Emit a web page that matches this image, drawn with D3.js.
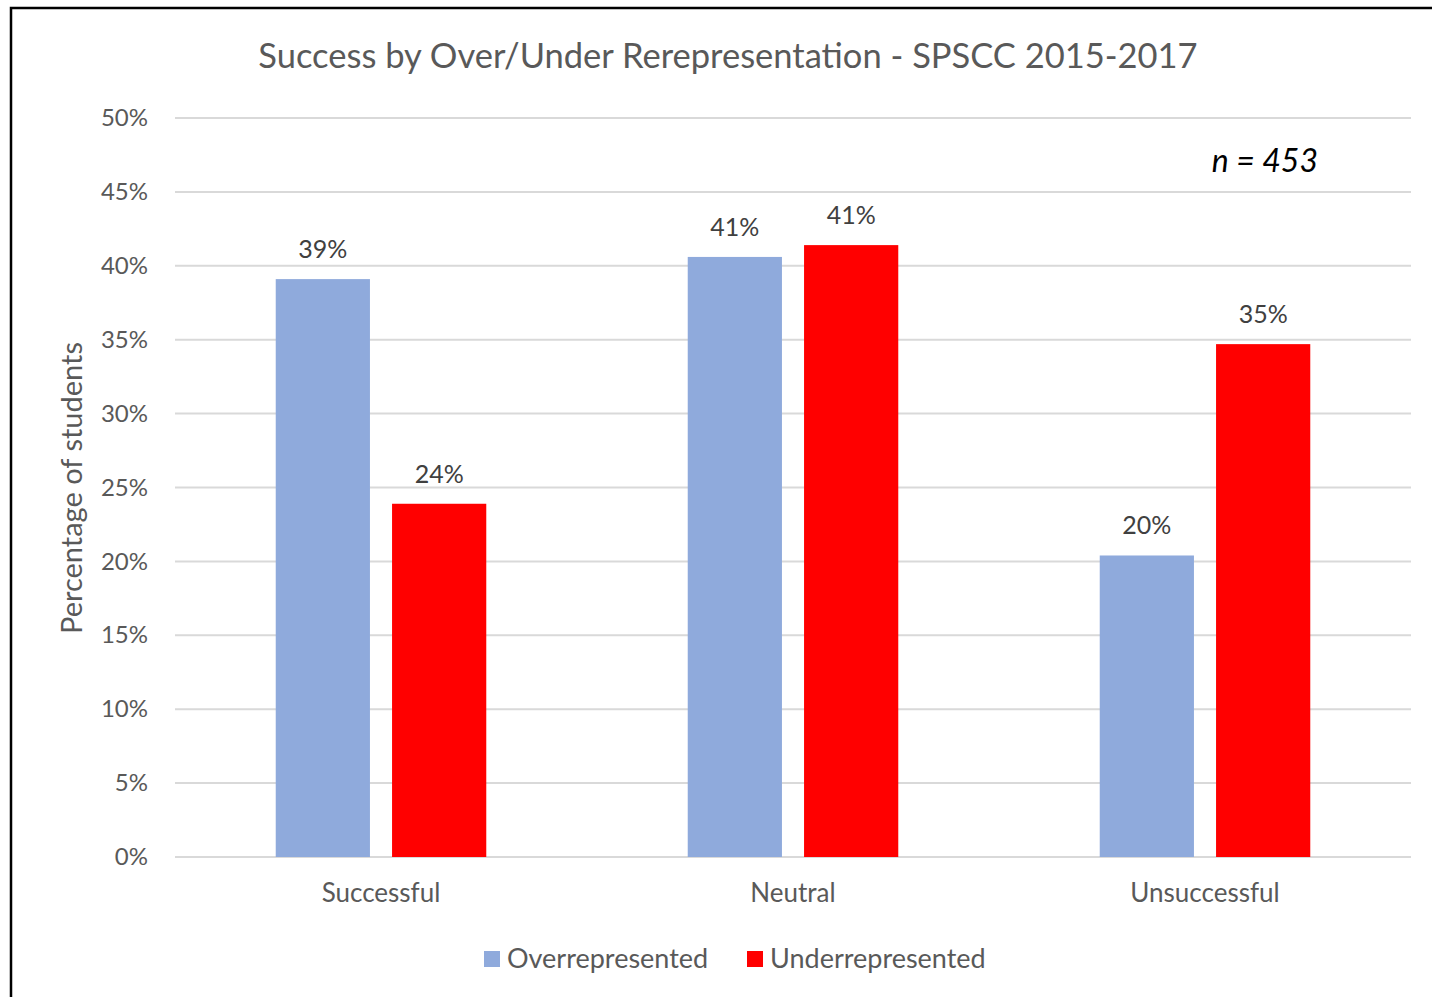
<!DOCTYPE html>
<html>
<head>
<meta charset="utf-8">
<script src="https://cdn.jsdelivr.net/npm/d3@7"></script>
<style>
  html, body { margin: 0; padding: 0; background: #fff; }
  svg { display: block; font-family: Lato, "Open Sans", sans-serif; }
</style>
</head>
<body>
<svg id="chart" width="1432" height="997"></svg>
<script>
const categories = ["Successful", "Neutral", "Unsuccessful"];
const seriesNames = ["Overrepresented", "Underrepresented"];
const overrepresented = [0.391, 0.406, 0.204];
const underrepresented = [0.239, 0.414, 0.347];
const yTicks = [0, 0.05, 0.10, 0.15, 0.20, 0.25, 0.30, 0.35, 0.40, 0.45, 0.50];
const colors = ["#8faadc", "#ff0000"];

const svg = d3.select("#chart");
const W = 1432, H = 997;
const margin = { left: 175, right: 21, top: 118, bottom: 140 };
const plotW = W - margin.left - margin.right;
const plotH = H - margin.top - margin.bottom;
const textColor = "#595959";

// chart frame
svg.append("rect")
  .attr("x", 11).attr("y", 8)
  .attr("width", 1440).attr("height", 1010)
  .attr("fill", "#fff").attr("stroke", "#000").attr("stroke-width", 2.5);

const g = svg.append("g").attr("transform", `translate(${margin.left},${margin.top})`);

const y = d3.scaleLinear().domain([0, 0.5]).range([plotH, 0]);
const x0 = d3.scaleBand().domain(categories).range([0, plotW]).paddingInner(0).paddingOuter(0);
const x1 = d3.scaleBand().domain(seriesNames).range([0, x0.bandwidth()]).paddingInner(0.19).paddingOuter(0.866);

// gridlines
g.append("g")
  .selectAll("line")
  .data(yTicks)
  .join("line")
  .attr("x1", 0).attr("x2", plotW)
  .attr("y1", d => y(d)).attr("y2", d => y(d))
  .attr("stroke", "#d9d9d9").attr("stroke-width", 2);

// y axis labels
const yAxis = d3.axisLeft(y).tickValues(yTicks).tickFormat(d3.format(".0%")).tickSize(0).tickPadding(27);
g.append("g").call(yAxis)
  .call(s => s.select(".domain").remove())
  .call(s => s.selectAll("text").attr("fill", textColor).style("font-size", "24px").style("font-family", "Lato, sans-serif"));

// x axis labels
const xAxis = d3.axisBottom(x0).tickSize(0).tickPadding(27);
g.append("g").attr("transform", `translate(0,${plotH})`).call(xAxis)
  .call(s => s.select(".domain").remove())
  .call(s => s.selectAll("text").attr("fill", textColor).style("font-size", "26px").style("font-family", "Lato, sans-serif"));

const rows = categories.map((c, i) => ({ cat: c, vals: [overrepresented[i], underrepresented[i]] }));

const groups = g.selectAll(".grp").data(rows).join("g")
  .attr("class", "grp")
  .attr("transform", d => `translate(${x0(d.cat)},0)`);

groups.selectAll("rect")
  .data(d => d.vals.map((v, j) => ({ s: seriesNames[j], v, j })))
  .join("rect")
  .attr("x", d => x1(d.s))
  .attr("width", x1.bandwidth())
  .attr("y", d => y(d.v))
  .attr("height", d => plotH - y(d.v))
  .attr("fill", d => colors[d.j]);

groups.selectAll(".lbl")
  .data(d => d.vals.map((v, j) => ({ s: seriesNames[j], v, j })))
  .join("text")
  .attr("class", "lbl")
  .attr("x", d => x1(d.s) + x1.bandwidth() / 2)
  .attr("y", d => y(d.v) - 21)
  .attr("text-anchor", "middle")
  .attr("fill", "#404040")
  .style("font-size", "25px")
  .text(d => d3.format(".0%")(d.v));

// title
svg.append("text")
  .attr("x", 728).attr("y", 68)
  .attr("text-anchor", "middle")
  .attr("fill", textColor)
  .style("font-size", "34.5px")
  .text("Success by Over/Under Rerepresentation - SPSCC 2015-2017");

// y axis title
svg.append("text")
  .attr("transform", "translate(82,488) rotate(-90)")
  .attr("text-anchor", "middle")
  .attr("fill", textColor)
  .style("font-size", "29px")
  .text("Percentage of students");

// sample size note
svg.append("text")
  .attr("x", 1318).attr("y", 172)
  .attr("text-anchor", "end")
  .attr("fill", "#000")
  .style("font-size", "32px")
  .style("font-style", "italic")
  .text("n = 453");

// legend
const legend = svg.append("g").attr("transform", "translate(484,959)");
const legendX = [0, 263];
seriesNames.forEach((name, i) => {
  const item = legend.append("g").attr("transform", `translate(${legendX[i]},0)`);
  item.append("rect").attr("x", 0).attr("y", -8).attr("width", 16).attr("height", 16).attr("fill", colors[i]);
  item.append("text").attr("x", 23).attr("y", 0).attr("dy", "0.35em")
    .attr("fill", textColor).style("font-size", "27px").text(name);
});
</script>
</body>
</html>
